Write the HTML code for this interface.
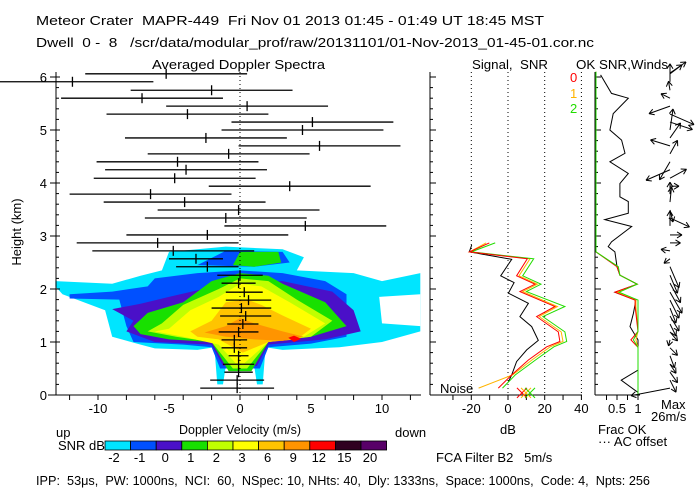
<!DOCTYPE html>
<html><head><meta charset="utf-8"><style>
html,body{margin:0;padding:0;background:#fff}
svg{display:block;font-family:"Liberation Sans",sans-serif}
text{font-size:13px;fill:#000}
.pre{white-space:pre}
</style></head><body>
<svg id="c" width="700" height="500" viewBox="0 0 700 500" xmlns="http://www.w3.org/2000/svg">
<rect width="700" height="500" fill="#fff"/>
<text class="pre" x="36" y="25" textLength="508" lengthAdjust="spacingAndGlyphs">Meteor Crater  MAPR-449  Fri Nov 01 2013 01:45 - 01:49 UT 18:45 MST</text>
<text class="pre" x="36" y="47" textLength="558" lengthAdjust="spacingAndGlyphs">Dwell  0 -  8   /scr/data/modular_prof/raw/20131101/01-Nov-2013_01-45-01.cor.nc</text>
<text x="152" y="69" textLength="173" lengthAdjust="spacingAndGlyphs">Averaged Doppler Spectra</text>
<text class="pre" x="472" y="69" textLength="76" lengthAdjust="spacingAndGlyphs">Signal,  SNR</text>
<text x="576" y="69" textLength="92" lengthAdjust="spacingAndGlyphs">OK SNR,Winds</text>
<text transform="translate(21,232) rotate(-90)" text-anchor="middle" font-size="12">Height (km)</text>
<text x="240" y="434" text-anchor="middle" textLength="122" lengthAdjust="spacingAndGlyphs">Doppler Velocity (m/s)</text>
<text x="56" y="437">up</text>
<text x="395" y="437">down</text>
<text x="508" y="434" text-anchor="middle">dB</text>
<text x="598" y="434">Frac OK</text>
<text x="598" y="446">··· AC offset</text>
<text x="661" y="409">Max</text>
<text x="651" y="421">26m/s</text>
<text x="58" y="450">SNR dB</text>
<text class="pre" x="436" y="462">FCA Filter B2   5m/s</text>
<text x="440" y="393" font-size="12">Noise</text>
<text class="pre" x="36" y="485" textLength="614" lengthAdjust="spacingAndGlyphs">IPP:  53μs,  PW: 1000ns,  NCI:  60,  NSpec: 10, NHts: 40,  Dly: 1333ns,  Space: 1000ns,  Code: 4,  Npts: 256</text>
<g id="heat"></g><g id="axes"></g><g id="marks"></g>
</svg>
<script>
const NS="http://www.w3.org/2000/svg";
// ---- data ----
const gateHeights=[0.13,0.28,0.43,0.58,0.74,0.89,1.04,1.19,1.34,1.49,1.64,1.79,1.94,2.11,2.26,2.42,2.57,2.72,2.87,3.02,3.19,3.34,3.49,3.64,3.79,3.94,4.09,4.25,4.40,4.55,4.70,4.85,5.00,5.15,5.30,5.45,5.60,5.75,5.91,6.06];
const meanVel=[-0.2,-0.2,-0.1,-0.1,-0.1,-0.4,-0.4,-0.1,0.2,0.4,0.1,0.6,0.3,-0.1,0.0,-2.3,-3.1,-4.7,-5.8,-2.3,4.6,-1.0,-0.1,-3.9,-6.3,3.5,-4.6,-3.8,-4.4,-0.8,5.6,-2.4,4.4,5.1,-3.7,0.5,-6.9,-2.0,-11.8,-5.2];
const specWidth=[2.6,1.9,1.0,1.1,0.7,0.9,0.9,1.4,1.1,1.8,2.1,1.6,1.3,1.2,1.6,2.2,1.9,5.7,5.7,5.7,5.7,5.7,5.7,5.7,5.7,5.7,5.7,5.7,5.7,5.7,5.7,5.7,5.7,5.7,5.7,5.7,5.7,5.7,5.7,5.7];
const snrHeights=[0.13,0.38,0.66,0.91,1.01,1.19,1.48,1.67,1.95,2.09,2.25,2.57,2.70,2.87];
const snr0=[-5.3,2.0,11.1,21.1,28.3,27.4,15.6,25.6,6.5,14.7,4.7,10.5,-21,-10.2];
const snr1=[-16,2.5,13,23,30,29,17,27,8,16,6,12,-21,-12];
const snr2=[-3,4,15,25,32,31,19,31,10,18,8,14,-20,-7];
const sigHeights=[0.25,0.38,0.63,0.85,1.03,1.29,1.48,1.73,1.92,2.12,2.25,2.56,2.70,2.83];
const signalDb=[0.2,2.0,4.7,10.2,16.5,12.9,6.5,11.1,0.2,3.3,-4.0,2.0,-21.1,-19.8];
const noiseDb=[7.6,9.8,12.0];
const fracHeights=[0.0,0.9,1.04,1.2,1.67,1.79,1.94,2.09,2.26,2.42,2.70,6.1];
const frac0=[1,1,0.83,1,0.93,0.93,0.45,0.98,0.57,0.5,0,0];
const frac1=[1,1,0.95,1,0.95,0.95,0.5,0.98,0.57,0.52,0,0];
const frac2=[1,1,0.89,1,1,1,0.55,0.98,0.57,0.53,0,0];
const snrOkHeights=[6.04,5.69,5.60,5.31,5.00,4.81,4.56,4.40,4.18,3.99,3.74,3.65,3.43,3.31,3.18,2.89,2.80,2.70,2.42,2.26,2.09,1.94,1.79,1.54,1.29,1.04,0.47,0.28,0.05];
const snrOk=[0.11,0.37,0.77,0.41,0.33,0.61,0.69,0.33,0.77,0.57,0.57,0.77,0.77,0.21,0.85,0.37,0.29,0.45,0.5,0.57,0.98,0.45,0.95,0.89,0.81,1,1,0.6,1];
const windU=[-26,4,5,4,3,5,-1,5,4,6,4,6,8,7,5,6,-4,-6,7,8,0,13,2,1,0,6,11,-16,-7,5,-13,7,2,15,16,-14,-6,-1,0,8];
const windV=[-5,-8,-7,-6,-8,-5,-4,-6,-8,-10,-10,-12,-14,-13,-12,-14,-3,1,0,0,10,-6,-8,10,8,0,6,-7,-12,9,4,10,14,-5,-7,-5,3,6,12,6];
const cbLabels=["-2","-1","0","1","2","3","6","9","12","15","20"];
const cbColors=["#00e5ff","#0050ff","#4a10c8","#18e000","#c0ff00","#ffff00","#ffc400","#ff9400","#ff0000","#300020","#580068"];
const heatLevels=[
 ["#00e5ff",[[-13,2.15],[-9,2.1],[-7,2.25],[-5.5,2.35],[-5,2.7],[-1,2.8],[3,2.75],[4.5,2.6],[4,2.35],[8,2.3],[10,2.15],[12.7,2.3],[12.7,1.2],[10,1.0],[7,0.9],[3,0.85],[1.8,0.9],[1.6,0.2],[1.2,0.2],[1.0,0.55],[-1,0.55],[-1.2,0.2],[-1.6,0.2],[-1.8,0.9],[-3,0.85],[-6,0.88],[-7,0.95],[-9,1.1],[-9.5,1.6],[-12.5,1.9],[-13,2.05]]],
 ["#ffffff",[[12.7,1.3],[10,1.35],[9.8,1.85],[12.7,1.9]]],
 ["#0050ff",[[-12,1.9],[-9,1.95],[-6.5,2.05],[-6,2.2],[-3,2.3],[0,2.35],[3,2.3],[6,2.15],[7.5,1.9],[7.5,1.1],[5,0.97],[2,0.9],[1.4,0.5],[-1.4,0.5],[-2,0.9],[-4,0.95],[-7.5,1.0],[-8,1.3],[-8.5,1.8],[-12,1.82]]],
 ["#0050ff",[[-3,2.45],[-1,2.72],[3,2.7],[3.5,2.5],[1,2.42]]],
 ["#4a10c8",[[-9,1.62],[-7,1.72],[-5,1.85],[-1,2.1],[3,2.15],[6.5,1.95],[8,1.6],[8.5,1.2],[6,1.05],[2,0.95],[1.2,0.55],[-1.2,0.55],[-2,0.95],[-6,1.0],[-8,1.2],[-7.5,1.4]]],
 ["#18e000",[[-6.5,1.55],[-4,1.75],[-2,2.15],[0,2.3],[2,2.25],[3,2.1],[6,1.75],[7.5,1.3],[5,1.1],[2,1.0],[0.8,0.45],[-0.8,0.45],[-2,1.0],[-5,1.05],[-7,1.15],[-7.5,1.3]]],
 ["#18e000",[[-0.5,2.45],[0,2.7],[2.7,2.7],[2.9,2.5],[1,2.42]]],
 ["#c0ff00",[[-5.5,1.35],[-4,1.7],[-1.5,2.0],[0,2.2],[2,2.15],[4,1.8],[6.5,1.4],[5,1.1],[2,1.0],[0.5,0.5],[-0.5,0.5],[-2,1.0],[-4.5,1.1],[-6.5,1.2]]],
 ["#ffff00",[[-5,1.25],[-3.5,1.6],[-1.5,1.85],[0,2.1],[1.5,2.05],[3.5,1.75],[6,1.35],[4.5,1.1],[2,1.0],[0.3,0.6],[-0.3,0.6],[-1.5,0.95],[-4,1.1],[-6,1.2]]],
 ["#ffc400",[[-3.5,1.2],[-2,1.4],[-1,1.75],[0.5,1.8],[1.5,1.7],[3,1.5],[5,1.25],[4,1.05],[2,1.0],[0.2,0.8],[-1.5,1.05],[-3,1.1]]],
 ["#ff9400",[[-2.5,1.18],[-1,1.3],[0,1.45],[1,1.35],[3,1.2],[4.5,1.1],[3,1.02],[1,1.05],[-1,1.1]]],
 ["#ff0000",[[3.4,1.08],[3.8,1.12],[4.3,1.06],[3.8,1.0]]]
];
// ---- axes ----
const xV=v=>240+v*14.2, yH=h=>395-h*53, xDb=d=>508+d*1.835, xF=f=>596+f*42, WS=1.5, WX=670;
function el(tag,attrs,parent,txt){const e=document.createElementNS(NS,tag);for(const k in attrs)e.setAttribute(k,attrs[k]);if(txt!==undefined)e.textContent=txt;parent.appendChild(e);return e;}
const heat=document.getElementById('heat'),axes=document.getElementById('axes'),marks=document.getElementById('marks');
heatLevels.forEach((lv,i)=>{
 const p=el('polygon',{points:lv[1].map(q=>xV(q[0]).toFixed(1)+','+yH(q[1]).toFixed(1)).join(' '),fill:lv[0]},heat);
 
 
});
const ln=(x1,y1,x2,y2,extra,par)=>el('line',Object.assign({x1,y1,x2,y2,stroke:'#000','stroke-width':1},extra||{}),par||axes);
let a=ln(56,72,56,395);
a=ln(48,395,421,395);
for(let h=0;h<=6.01;h+=0.2){const maj=Math.abs(h-Math.round(h))<0.01;ln(maj?50:56,yH(h),maj?60:59,yH(h));ln(430,yH(h),maj?436:433,yH(h));ln(595,yH(h),maj?601:598,yH(h));}
for(let h=0;h<=6;h++){const t=el('text',{x:47,y:yH(h)+5,'text-anchor':'end'},axes,String(h));}
for(let v=-12;v<=12;v+=2)ln(xV(v),395,xV(v),400);
[-10,-5,0,5,10].forEach(v=>{const t=el('text',{x:xV(v),y:413,'text-anchor':'middle'},axes,String(v));});
ln(xV(0),72,xV(0),395,{'stroke-dasharray':'1,3'});
a=ln(430,72,430,395);
a=ln(430,395,582,395);
for(let d=-30;d<=40;d+=10)ln(xDb(d),395,xDb(d),400);
[-20,0,20,40].forEach(d=>{const t=el('text',{x:xDb(d),y:413,'text-anchor':'middle'},axes,String(d));ln(xDb(d),72,xDb(d),395,{'stroke-dasharray':'1,3'});});
a=ln(595,72,595,395);
a=ln(595,395,640,395);
for(let f=0.25;f<=1;f+=0.25)ln(xF(f),395,xF(f),400);
[["0.5",0.5],["1",1]].forEach(q=>{const t=el('text',{x:xF(q[1]),y:413,'text-anchor':'middle'},axes,q[0]);});
[["0","#ff0000",82],["1","#ffb400",98],["2","#22dd00",113]].forEach(q=>{const t=el('text',{x:570,y:q[2],fill:q[1],style:'fill:'+q[1]},axes,q[0]);});
gateHeights.forEach((h,i)=>{
 const g=el('g',{},marks);
 
 
 ln(xV(meanVel[i]-specWidth[i]),yH(h),xV(meanVel[i]+specWidth[i]),yH(h),{'stroke-width':1.3},g);
 ln(xV(meanVel[i]),yH(h)-5,xV(meanVel[i]),yH(h)+5,{'stroke-width':1.3},g);
});
function poly(xs,hs,fx,color,name){const p=el('polyline',{points:xs.map((x,i)=>fx(x).toFixed(1)+','+yH(hs[i]).toFixed(1)).join(' '),fill:'none',stroke:color,'stroke-width':1},marks);
 
 }
poly(signalDb,sigHeights,xDb,'#000','signal-line');
poly(snr1,snrHeights,xDb,'#ffb400','snr-beam-1');
poly(snr2,snrHeights,xDb,'#22dd00','snr-beam-2');
poly(snr0,snrHeights,xDb,'#ff0000','snr-beam-0');
noiseDb.forEach((d,i)=>{const c=['#ff0000','#ffb400','#22dd00'][i];const g=el('g',{stroke:c},marks);
 
 
 const x=xDb(d),y=yH(0.04);ln(x-5,y-5,x+5,y+5,{stroke:c},g);ln(x-5,y+5,x+5,y-5,{stroke:c},g);});
poly(snrOk,snrOkHeights,xF,'#000','snr-ok-line');
poly(frac1,fracHeights,xF,'#ffb400','frac-ok-beam-1');
poly(frac0,fracHeights,xF,'#ff0000','frac-ok-beam-0');
poly(frac2,fracHeights,xF,'#22dd00','frac-ok-beam-2');
function arrow(x,y,dx,dy,name){const g=el('g',{},marks);
 
 
 const L=Math.hypot(dx,dy)||1,ux=dx/L,uy=dy/L,tx=x+dx,ty=y+dy;
 ln(x,y,tx,ty,{},g);
 ln(tx,ty,tx-5*ux+3*uy,ty-5*uy-3*ux,{},g);ln(tx,ty,tx-5*ux-3*uy,ty-5*uy+3*ux,{},g);}
gateHeights.forEach((h,i)=>arrow(WX,yH(h),windU[i]*WS,-windV[i]*WS,'wind-arrow-'+i));
arrow(670,73,16,-11,'north-reference-arrow');
cbColors.forEach((c,i)=>{const r=el('rect',{x:105+i*25.6,y:441,width:25.6,height:9,fill:c,stroke:'#000','stroke-width':0.8},axes);
 
 
 const t=el('text',{x:105+i*25.6+9,y:462,'text-anchor':'middle'},axes,cbLabels[i]);
 
 });
</script>
</body></html>
